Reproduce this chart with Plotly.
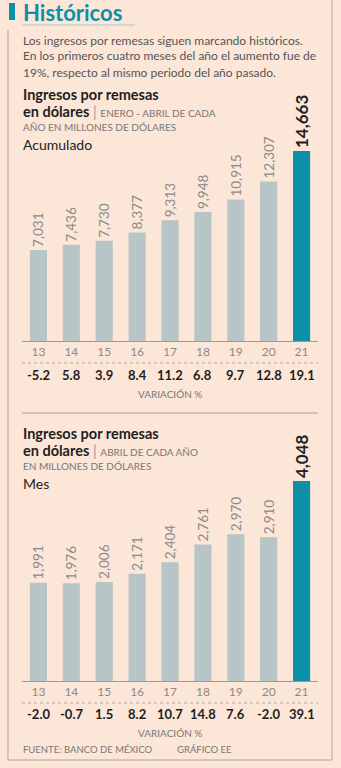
import plotly.graph_objects as go

W, H = 341, 768
years = ["13", "14", "15", "16", "17", "18", "19", "20", "21"]
acum = [7031, 7436, 7730, 8377, 9313, 9948, 10915, 12307, 14663]
acum_var = ["-5.2", "5.8", "3.9", "8.4", "11.2", "6.8", "9.7", "12.8", "19.1"]
mes = [1991, 1976, 2006, 2171, 2404, 2761, 2970, 2910, 4048]
mes_var = ["-2.0", "-0.7", "1.5", "8.2", "10.7", "14.8", "7.6", "-2.0", "39.1"]

BG = "#fce6d8"
GRAY_BAR = "#b7c5c6"
TEAL = "#0d8fa8"
FONT = "Lato"
TXT = "#555555"


def px(x):
    return x / W


def py(y):
    return 1 - y / H


def bar_trace(vals, xa, ya):
    colors = [GRAY_BAR] * (len(vals) - 1) + [TEAL]
    text = [f"{v:,}" for v in vals[:-1]] + [f"<b>{vals[-1]:,}</b>"]
    sizes = [13.5] * (len(vals) - 1) + [17]
    tcol = ["#8a8a8a"] * (len(vals) - 1) + ["#222222"]
    return go.Bar(
        x=years, y=vals, xaxis=xa, yaxis=ya,
        marker=dict(color=colors, line=dict(width=0)),
        width=0.52,
        text=text, textposition="outside", textangle=-90,
        constraintext="none",
        textfont=dict(family=FONT, size=sizes, color=tcol),
        cliponaxis=False, hoverinfo="skip", showlegend=False,
    )


fig = go.Figure()
fig.add_trace(bar_trace(acum, "x", "y"))
fig.add_trace(bar_trace(mes, "x2", "y2"))

xdom = [px(22), px(318)]
axis_common = dict(
    domain=xdom, type="category", categoryorder="array", categoryarray=years,
    range=[-0.5, len(years) - 0.5], autorange=False,
    showgrid=False, zeroline=False,
    showline=True, linecolor="#9a9a9a", linewidth=1, ticks="",
    tickfont=dict(family=FONT, size=12, color="#8a8a8a"), fixedrange=True,
)
top_scale = 190 / 14663
bot_scale = 200 / 4048
fig.update_layout(
    width=W, height=H, margin=dict(l=0, r=0, t=0, b=0),
    paper_bgcolor=BG, plot_bgcolor="rgba(0,0,0,0)",
    bargap=0.48,
    xaxis=dict(anchor="y", **axis_common),
    xaxis2=dict(anchor="y2", **axis_common),
    yaxis=dict(domain=[py(341), py(85)], range=[0, (341 - 85) / top_scale], visible=False, fixedrange=True),
    yaxis2=dict(domain=[py(681), py(420)], range=[0, (681 - 420) / bot_scale], visible=False, fixedrange=True),
)

ann = []


def text(x, y, s, size, color=TXT, bold=False, xanchor="left", family=FONT):
    ann.append(dict(
        x=px(x), y=py(y), xref="paper", yref="paper", text=(f"<b>{s}</b>" if bold else s),
        showarrow=False, xanchor=xanchor, yanchor="middle",
        font=dict(family=family, size=size, color=color),
    ))


# Header
text(21, 12, "Históricos", 22, color=TEAL, bold=True)
for i, line in enumerate([
    "Los ingresos por remesas siguen marcando históricos.",
    "En los primeros cuatro meses del año el aumento fue de",
    "19%, respecto al mismo periodo del año pasado.",
]):
    text(21, 40 + 16 * i, line, 12, color=TXT)

# Chart 1 header
text(21, 94, "Ingresos por remesas", 14.5, color="#1e1e1e", bold=True)
text(21, 111, "<b>en dólares</b> <span style='color:#999'>|</span> <span style='font-size:10px;color:#777'>ENERO - ABRIL DE CADA</span>", 14.5, color="#1e1e1e")
text(21, 127, "AÑO EN MILLONES DE DÓLARES", 10, color="#777777")
text(21, 144, "Acumulado", 14, color="#222222")

# Chart 2 header
text(21, 433, "Ingresos por remesas", 14.5, color="#1e1e1e", bold=True)
text(21, 450, "<b>en dólares</b> <span style='color:#999'>|</span> <span style='font-size:10px;color:#777'>ABRIL DE CADA AÑO</span>", 14.5, color="#1e1e1e")
text(21, 466, "EN MILLONES DE DÓLARES", 10, color="#777777")
text(21, 483, "Mes", 14, color="#222222")

# Variation rows (x positions are category indices)
for xa, vals, yv, ylab in [("x", acum_var, 375, 394), ("x2", mes_var, 714, 733)]:
    for i, v in enumerate(vals):
        ann.append(dict(
            x=i, y=py(yv), xref=xa, yref="paper", text=f"<b>{v}</b>", showarrow=False,
            xanchor="center", yanchor="middle",
            font=dict(family=FONT, size=13, color="#1e1e1e"),
        ))
    text(170, ylab, "VARIACIÓN %", 10, color="#777777", xanchor="center")

# Footer
text(21, 749, "FUENTE: BANCO DE MÉXICO", 9.5, color="#777777")
text(175, 749, "GRÁFICO EE", 9.5, color="#777777")

fig.update_layout(annotations=ann)

shapes = [
    dict(type="rect", xref="paper", yref="paper", x0=px(9), x1=px(15), y0=py(20), y1=py(3),
         fillcolor=TEAL, line=dict(width=0)),
    dict(type="line", xref="paper", yref="paper", x0=px(22), x1=px(135), y0=py(25), y1=py(25),
         line=dict(color="#a8c8d0", width=1)),
    dict(type="line", xref="paper", yref="paper", x0=px(332), x1=px(332), y0=py(0), y1=py(760),
         line=dict(color="#b0a49c", width=1)),
    dict(type="line", xref="paper", yref="paper", x0=px(8), x1=px(8), y0=py(30), y1=py(760),
         line=dict(color="#b0a49c", width=1)),
    dict(type="line", xref="paper", yref="paper", x0=px(8), x1=px(332), y0=py(760), y1=py(760),
         line=dict(color="#b0a49c", width=1)),
    dict(type="line", xref="paper", yref="paper", x0=px(22), x1=px(318), y0=py(413), y1=py(413),
         line=dict(color="#a89c94", width=1)),
    dict(type="line", xref="paper", yref="paper", x0=px(22), x1=px(318), y0=py(363), y1=py(363),
         line=dict(color="#aaaaaa", width=1, dash="dot")),
    dict(type="line", xref="paper", yref="paper", x0=px(22), x1=px(318), y0=py(703), y1=py(703),
         line=dict(color="#aaaaaa", width=1, dash="dot")),
]
fig.update_layout(shapes=shapes)

fig.write_html("out.html")
